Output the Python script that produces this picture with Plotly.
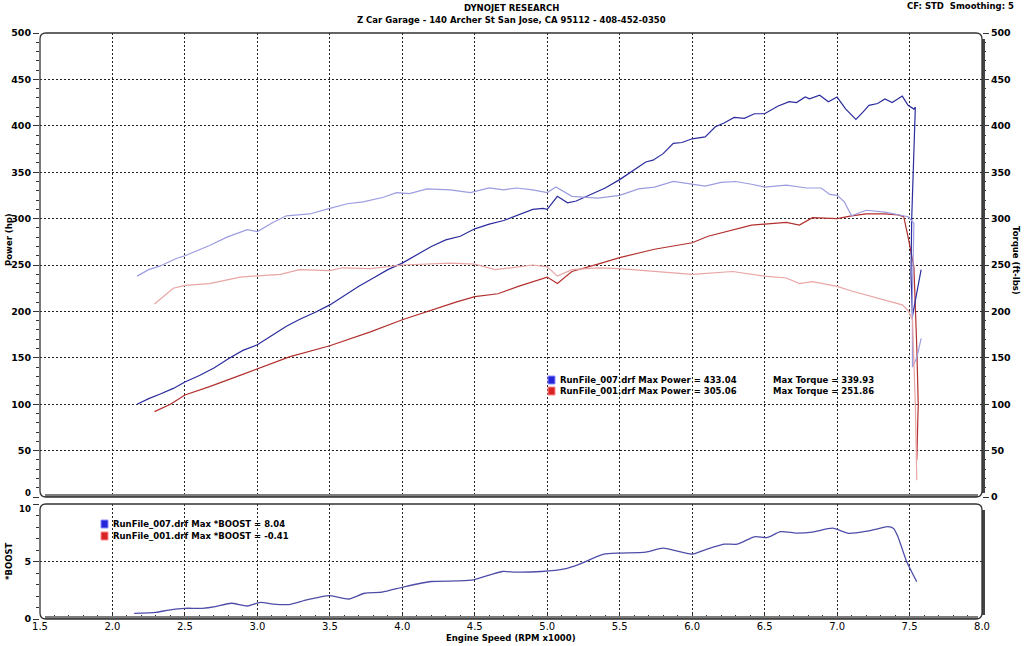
import plotly.graph_objects as go

# ---------------- data ----------------
rpm_p007 = [2.17, 2.25, 2.33, 2.42, 2.5, 2.6, 2.7, 2.8, 2.9, 3.0, 3.1, 3.2, 3.3, 3.4, 3.5, 3.6, 3.7, 3.8, 3.9, 4.0,
            4.1, 4.2, 4.3, 4.4, 4.5, 4.6, 4.7, 4.8, 4.9, 4.97, 5.0, 5.07, 5.14, 5.2, 5.3, 5.4, 5.5, 5.6, 5.68, 5.73,
            5.8, 5.87, 5.93, 6.0, 6.09, 6.16, 6.22, 6.29, 6.36, 6.43, 6.5, 6.59, 6.67, 6.72, 6.78, 6.81, 6.88, 6.94,
            7.0, 7.06, 7.13, 7.18, 7.22, 7.28, 7.33, 7.38, 7.45, 7.49, 7.53, 7.54, 7.525, 7.515, 7.51, 7.515, 7.52,
            7.55, 7.58]
hp_007 = [100, 106, 111, 117, 124, 131, 139, 149, 158, 164, 174, 184, 192, 199, 207, 217, 227, 236, 245, 252,
          261, 270, 277, 281, 289, 294, 298, 304, 310, 311, 310, 324, 317, 319, 326, 333, 342, 353, 361, 363,
          370, 381, 382, 386, 388, 399, 403, 409, 408, 413, 413, 421, 426, 425, 431, 429, 433, 426,
          431, 418, 407, 415, 422, 424, 429, 425, 432, 422, 418, 420, 360, 300, 240, 200, 195,
          220, 245]

rpm_t007 = [2.17, 2.25, 2.33, 2.44, 2.5, 2.6, 2.67, 2.79, 2.93, 3.0, 3.11, 3.2, 3.36, 3.5, 3.62, 3.73, 3.87, 3.96,
            4.05, 4.17, 4.33, 4.47, 4.6, 4.7, 4.79, 4.9, 5.0, 5.06, 5.17, 5.35, 5.5, 5.63, 5.74, 5.87, 5.97, 6.09,
            6.2, 6.3, 6.41, 6.5, 6.65, 6.79, 6.89, 6.95, 7.0, 7.05, 7.1, 7.2, 7.33, 7.49, 7.53, 7.52, 7.52, 7.55,
            7.58]
tq_007 = [238, 245, 249, 257, 260, 266, 271, 280, 288, 286, 296, 303, 305, 311, 316, 318, 323, 328,
          327, 332, 331, 328, 333, 331, 333, 331, 328, 334, 324, 322, 325, 332, 334, 340, 338, 335,
          339, 340, 337, 334, 336, 333, 333, 326, 325, 318, 303, 309, 307, 302, 295, 220, 140, 150,
          171]

rpm_p001 = [2.29, 2.4, 2.5, 2.67, 2.88, 3.0, 3.22, 3.5, 3.78, 4.0, 4.19, 4.37, 4.5, 4.66, 4.8, 5.0, 5.07, 5.17,
            5.35, 5.5, 5.74, 6.0, 6.11, 6.28, 6.41, 6.5, 6.65, 6.74, 6.83, 7.0, 7.1, 7.2, 7.33, 7.42, 7.46, 7.49,
            7.53, 7.55, 7.56, 7.55]
hp_001 = [92, 100, 110, 119, 131, 138, 151, 163, 178, 191, 201, 210, 216, 219, 227, 237, 230, 243,
          251, 258, 267, 274, 281, 288, 293, 294, 296, 293, 301, 300, 303, 305, 305, 304, 302, 280,
          248, 162, 100, 40]

rpm_t001 = [2.29, 2.42, 2.5, 2.67, 2.88, 3.0, 3.16, 3.29, 3.5, 3.59, 3.78, 4.0, 4.33, 4.5, 4.64, 4.75, 4.9, 5.0,
            5.07, 5.17, 5.35, 5.5, 5.74, 6.0, 6.28, 6.5, 6.65, 6.74, 6.83, 7.0, 7.1, 7.34, 7.45, 7.49, 7.52, 7.54,
            7.55]
tq_001 = [208, 225, 228, 230, 237, 238, 240, 245, 244, 247, 246, 250, 252, 251, 245, 247, 250, 248,
          238, 245, 247, 246, 243, 240, 243, 238, 236, 230, 232, 227, 222, 212, 207, 201, 191, 100,
          18]

rpm_boost = [2.15, 2.3, 2.39, 2.5, 2.62, 2.71, 2.82, 2.93, 3.02, 3.11, 3.23, 3.34, 3.5, 3.63, 3.74, 3.86, 4.02,
             4.2, 4.38, 4.49, 4.69, 4.78, 4.96, 5.12, 5.21, 5.39, 5.5, 5.68, 5.8, 6.0, 6.09, 6.22, 6.31, 6.43,
             6.52, 6.61, 6.72, 6.83, 6.97, 7.08, 7.21, 7.3, 7.35, 7.39, 7.42, 7.48, 7.55]
boost_007 = [0.49, 0.58, 0.78, 0.93, 0.93, 1.08, 1.37, 1.13, 1.45, 1.3, 1.28, 1.66, 2.03, 1.74, 2.24, 2.33, 2.82,
             3.26, 3.31, 3.4, 4.13, 4.07, 4.13, 4.36, 4.71, 5.64, 5.73, 5.81, 6.16, 5.64, 6.02, 6.51, 6.51, 7.15,
             7.09, 7.6, 7.47, 7.56, 7.9, 7.45, 7.65, 7.9, 8.04, 7.88, 7.16, 5.0, 3.24]

power_ticks = [0, 50, 100, 150, 200, 250, 300, 350, 400, 450, 500]
boost_ticks = [0, 5, 10]
rpm_ticks = [1.5, 2.0, 2.5, 3.0, 3.5, 4.0, 4.5, 5.0, 5.5, 6.0, 6.5, 7.0, 7.5, 8.0]

main_legend = [("RunFile_007.drf Max Power = 433.04", "Max Torque = 339.93"),
               ("RunFile_001.drf Max Power = 305.06", "Max Torque = 251.86")]
boost_legend = ["RunFile_007.drf Max *BOOST = 8.04", "RunFile_001.drf Max *BOOST = -0.41"]
title1 = "DYNOJET RESEARCH"
title2 = "Z Car Garage - 140 Archer St San Jose, CA 95112 - 408-452-0350"
corner_text = "CF: STD  Smoothing: 5"

# ---------------- layout geometry ----------------
W, H = 1024, 646
L, R, T, B = 40, 42, 33, 27
PW, PH = W - L - R, H - T - B


def px(x):
    return (x - L) / PW


def py(y):
    return (H - B - y) / PH


MAIN_TOP, MAIN_BOT = 33, 497
BST_TOP, BST_BOT = 504, 619
X0, X1 = 40, 982

FONT = "DejaVu Sans"
C_BLUE_P = "#2b2b9e"
C_BLUE_T = "#9c9ce0"
C_RED_P = "#b2302e"
C_RED_T = "#e9a5a5"
C_BOOST = "#4d4da9"

fig = go.Figure()
fig.add_trace(go.Scatter(x=rpm_t007, y=tq_007, mode="lines", line=dict(color=C_BLUE_T, width=1.2),
                         xaxis="x", yaxis="y2", name="Torque 007"))
fig.add_trace(go.Scatter(x=rpm_t001, y=tq_001, mode="lines", line=dict(color=C_RED_T, width=1.2),
                         xaxis="x", yaxis="y2", name="Torque 001"))
fig.add_trace(go.Scatter(x=rpm_p001, y=hp_001, mode="lines", line=dict(color=C_RED_P, width=1.2),
                         xaxis="x", yaxis="y", name="Power 001"))
fig.add_trace(go.Scatter(x=rpm_p007, y=hp_007, mode="lines", line=dict(color=C_BLUE_P, width=1.2),
                         xaxis="x", yaxis="y", name="Power 007"))
fig.add_trace(go.Scatter(x=rpm_boost, y=boost_007, mode="lines",
                         line=dict(color=C_BOOST, width=1.3, shape="spline", smoothing=0.6),
                         xaxis="x2", yaxis="y3", name="Boost 007"))

grid = dict(showgrid=True, gridcolor="#222222", gridwidth=1, griddash="2px,2px", zeroline=False)
tickfont = dict(family=FONT, size=9.5, color="black", weight="bold")

main_dom = [py(MAIN_BOT), py(MAIN_TOP)]
bst_dom = [py(BST_BOT), py(BST_TOP)]

# the lowest main label and the top boost label are placed as annotations to keep them apart
left_text = [str(v) if v != 0 else "" for v in power_ticks]
right_text = [str(v) for v in power_ticks]
boost_text = [str(v) if v != 10 else "" for v in boost_ticks]

fig.update_layout(
    width=W, height=H,
    margin=dict(l=L, r=R, t=T, b=B, pad=0),
    paper_bgcolor="white", plot_bgcolor="white",
    showlegend=False,
    xaxis=dict(domain=[0, 1], anchor="y", range=[1.5, 8.0], tickvals=rpm_ticks,
               showticklabels=False, ticks="", showline=False, **grid),
    yaxis=dict(domain=main_dom, anchor="x", range=[0, 500], tickvals=power_ticks, ticktext=left_text,
               showline=False, ticks="outside", ticklen=6, tickcolor="#333", tickfont=tickfont,
               minor=dict(dtick=10, ticks="outside", ticklen=3, tickcolor="#333", showgrid=False),
               **grid),
    yaxis2=dict(overlaying="y", side="right", anchor="x", range=[0, 500], tickvals=power_ticks,
                ticktext=right_text, showline=False,
                ticks="outside", ticklen=6, tickcolor="#333", tickfont=tickfont, showgrid=False,
                zeroline=False,
                minor=dict(dtick=10, ticks="outside", ticklen=3, tickcolor="#333", showgrid=False)),
    xaxis2=dict(domain=[0, 1], anchor="y3", range=[1.5, 8.0], tickvals=rpm_ticks, tickformat=".1f",
                showline=False, ticks="inside", ticklen=5, tickcolor="#333",
                tickfont=dict(family=FONT, size=10, color="black"),
                minor=dict(dtick=0.1, ticks="inside", ticklen=4, tickcolor="#333", showgrid=False),
                **grid),
    yaxis3=dict(domain=bst_dom, anchor="x2", range=[0, 10], tickvals=boost_ticks, ticktext=boost_text,
                showline=False, ticks="outside", ticklen=6, tickcolor="#333", tickfont=tickfont,
                minor=dict(dtick=1, ticks="outside", ticklen=3, tickcolor="#333", showgrid=False),
                **grid),
)


def rrect_path(x0, y0, x1, y1, r):
    pts = []
    pts.append("M %f,%f" % (px(x0 + r), py(y0)))
    pts.append("L %f,%f" % (px(x1 - r), py(y0)))
    pts.append("Q %f,%f %f,%f" % (px(x1), py(y0), px(x1), py(y0 + r)))
    pts.append("L %f,%f" % (px(x1), py(y1 - r)))
    pts.append("Q %f,%f %f,%f" % (px(x1), py(y1), px(x1 - r), py(y1)))
    pts.append("L %f,%f" % (px(x0 + r), py(y1)))
    pts.append("Q %f,%f %f,%f" % (px(x0), py(y1), px(x0), py(y1 - r)))
    pts.append("L %f,%f" % (px(x0), py(y0 + r)))
    pts.append("Q %f,%f %f,%f" % (px(x0), py(y0), px(x0 + r), py(y0)))
    pts.append("Z")
    return " ".join(pts)


shapes = []
for top, bot in [(MAIN_TOP, MAIN_BOT), (BST_TOP, BST_BOT)]:
    shapes.append(dict(type="line", xref="paper", yref="paper", x0=px(X0 + 5), x1=px(X1 - 4),
                       y0=py(bot - 1.5), y1=py(bot - 1.5), line=dict(color="#7d7d7d", width=3)))
    shapes.append(dict(type="line", xref="paper", yref="paper", x0=px(X1 + 1.5), x1=px(X1 + 1.5),
                       y0=py(top + 6), y1=py(bot - 4), line=dict(color="#444444", width=3)))
    shapes.append(dict(type="path", xref="paper", yref="paper", path=rrect_path(X0, top, X1, bot, 6),
                       line=dict(color="#333333", width=1.3)))

for (x0, y0, col, edge) in [(548, 376, "#2424d8", "#8a8aff"), (548, 387, "#d82424", "#ff8a8a"),
                            (101, 520, "#2424d8", "#8a8aff"), (101, 532, "#d82424", "#ff8a8a")]:
    shapes.append(dict(type="rect", xref="paper", yref="paper", x0=px(x0), x1=px(x0 + 7),
                       y0=py(y0 + 8), y1=py(y0), fillcolor=col, line=dict(color=edge, width=1)))

fig.update_layout(shapes=shapes)

ann = []
lfont = dict(family=FONT, size=8.5, color="black", weight="bold")


def text(x, y, s, font, xanchor="left", textangle=0):
    ann.append(dict(x=px(x), y=py(y), xref="paper", yref="paper", text=s, showarrow=False,
                    xanchor=xanchor, yanchor="middle", font=font, textangle=textangle))


text(511, 8, title1, lfont, "center")
text(511, 20, title2, lfont, "center")
text(1016, 6, corner_text, lfont, "right")
text(558, 380, main_legend[0][0], lfont)
text(771, 380, main_legend[0][1], lfont)
text(558, 391, main_legend[1][0], lfont)
text(771, 391, main_legend[1][1], lfont)
text(111, 524, boost_legend[0], lfont)
text(111, 536, boost_legend[1], lfont)
text(9, 240, "Power (hp)", lfont, "center", -90)
text(1016, 260, "Torque (ft-lbs)", lfont, "center", 90)
text(9, 562, "*BOOST", lfont, "center", -90)
text(511, 638, "Engine Speed (RPM x1000)", lfont, "center")
text(33, 492.5, str(power_ticks[0]), dict(family=FONT, size=8.5, color="black", weight="bold"), "right")
text(33, 508.5, str(boost_ticks[-1]), dict(family=FONT, size=8.5, color="black", weight="bold"), "right")
fig.update_layout(annotations=ann)

fig.write_html("out.html")
